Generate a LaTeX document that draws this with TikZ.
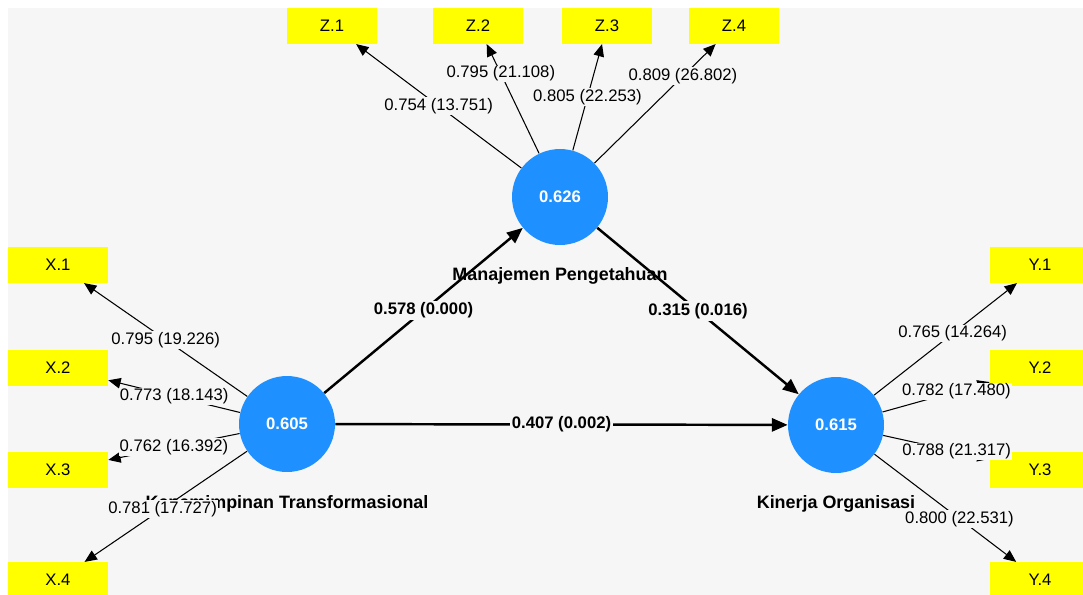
\documentclass[tikz,border=0pt]{standalone}
\usepackage{fontspec}
\setmainfont{Liberation Sans}
\usetikzlibrary{positioning,arrows.meta}
\definecolor{lvblue}{HTML}{1E90FF}
\definecolor{bggray}{HTML}{F6F6F6}
\definecolor{indyellow}{HTML}{FFFF00}

\begin{document}
\begin{tikzpicture}[
  x=0.02cm,y=-0.02cm,
  lv/.style={circle,fill=lvblue,minimum size=1.92cm,inner sep=0pt,text=white,font=\fontsize{9.5}{11}\selectfont\bfseries},
  lvname/.style={inner sep=0pt,font=\fontsize{10.2}{12}\selectfont\bfseries},
  ind/.style={fill=indyellow,minimum width=2cm,minimum height=0.71cm,inner sep=0pt,font=\fontsize{9.5}{11}\selectfont},
  indz/.style={ind,minimum width=1.8cm},
  ld/.style={fill=bggray,inner sep=0.6pt,font=\fontsize{9.5}{11}\selectfont},
  pc/.style={ld,inner sep=1pt,font=\fontsize{9.5}{11}\selectfont\bfseries},
  ldar/.style={-{Triangle[length=7pt,width=6pt]},line width=0.6pt},
  ar/.style={-{Triangle[length=9pt,width=7.5pt]},line width=1.4pt}]
\useasboundingbox (0,0) rectangle (1083,595);
\fill[bggray] (8,8) rectangle (1083,595);

% latent variables
\node[lv] (mp) at (560,197) {0.626};
\node[lv] (kt) at (287,424) {0.605};
\node[lv] (ko) at (836,425) {0.615};
\node[lvname,below=0.44cm of mp] (mpname) {Manajemen Pengetahuan};
\node[lvname,below=0.45cm of kt] (ktname) {Kepemimpinan Transformasional};
\node[lvname,below=0.44cm of ko] (koname) {Kinerja Organisasi};

% indicators
\node[indz] (z1) at (332,26) {Z.1};
\node[indz] (z2) at (478,26) {Z.2};
\node[indz] (z3) at (607,26) {Z.3};
\node[indz] (z4) at (734,26) {Z.4};
\node[ind] (x1) at (58,265) {X.1};
\node[ind] (x2) at (58,368) {X.2};
\node[ind] (x3) at (58,470) {X.3};
\node[ind] (x4) at (58,580) {X.4};
\node[ind] (y1) at (1040,265) {Y.1};
\node[ind] (y2) at (1040,368) {Y.2};
\node[ind] (y3) at (1040,470) {Y.3};
\node[ind] (y4) at (1040,580) {Y.4};

% outer loadings
\draw[ldar] (mp) -- node[ld,pos=0.5] {0.754 (13.751)} (z1);
\draw[ldar] (mp) -- node[ld,pos=0.73] {0.795 (21.108)} (z2);
\draw[ldar] (mp) -- node[ld,pos=0.5] {0.805 (22.253)} (z3);
\draw[ldar] (mp) -- node[ld,pos=0.73] {0.809 (26.802)} (z4);
\draw[ldar] (kt) -- node[ld] {0.795 (19.226)} (x1);
\draw[ldar] (kt) -- node[ld] {0.773 (18.143)} (x2);
\draw[ldar] (kt) -- node[ld] {0.762 (16.392)} (x3);
\draw[ldar] (kt) -- node[ld,pos=0.52] {0.781 (17.727)} (x4);
\draw[ldar] (ko) -- node[ld,pos=0.55] {0.765 (14.264)} (y1);
\draw[ldar] (ko) -- node[ld,pos=0.69] {0.782 (17.480)} (y2);
\draw[ldar] (ko) -- node[ld,pos=0.69] {0.788 (21.317)} (y3);
\draw[ldar] (ko) -- node[ld,pos=0.6] {0.800 (22.531)} (y4);

% path coefficients
\draw[ar] (kt) -- node[pc] {0.578 (0.000)} (mp);
\draw[ar] (mp) -- node[pc] {0.315 (0.016)} (ko);
\draw[ar] (kt) -- node[pc] {0.407 (0.002)} (ko);
\end{tikzpicture}
\end{document}
